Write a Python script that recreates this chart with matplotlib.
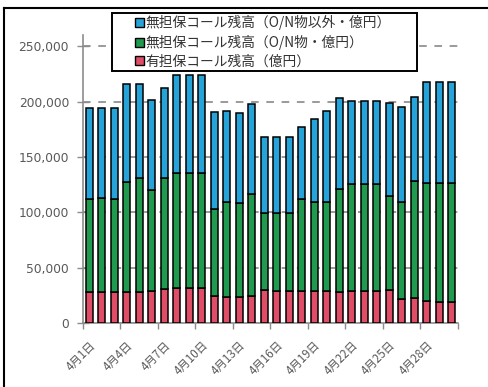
import matplotlib
matplotlib.use("Agg")
import matplotlib.pyplot as plt
from matplotlib.patches import Patch, Rectangle
from matplotlib.lines import Line2D
from matplotlib.ticker import FuncFormatter
import numpy as np

plt.rcParams['font.family'] = ['Noto Sans CJK JP', 'DejaVu Sans']

# Daily call market balances for April (unit: 100 million yen)
days = [f"4月{d}日" for d in range(1, 31)]
secured = [28000, 28000, 28000, 28000, 28000, 29500, 30700, 31600, 31600, 31600,
           25000, 24100, 24100, 24700, 30100, 29500, 29500, 29200, 29500, 29500,
           28600, 29200, 29500, 29500, 30100, 21700, 22600, 20500, 19500, 19500]
uncollat_on_total = [112000, 113400, 112000, 127200, 130800, 120300, 130800, 135900, 135900, 135900,
                     103200, 109200, 108900, 116400, 99800, 99800, 99800, 111900, 109800, 109200,
                     121200, 125400, 125400, 125400, 114900, 109200, 128700, 126900, 126900, 126900]
grand_total = [194600, 194600, 194600, 216000, 216000, 201500, 212600, 223500, 223500, 223500,
               190400, 191600, 189500, 197900, 168000, 168000, 168000, 176800, 184100, 191600,
               203000, 200900, 200900, 200900, 199100, 195500, 204500, 217400, 217400, 217400]

secured = np.array(secured)
uncollat_on = np.array(uncollat_on_total) - secured
uncollat_term = np.array(grand_total) - np.array(uncollat_on_total)

labels = ["無担保コール残高（O/N物以外・億円）",
          "無担保コール残高（O/N物・億円）",
          "有担保コール残高（億円）"]
c_blue, c_green, c_red = "#26a3d9", "#1f9a4e", "#df4d66"

W, H = 488, 387
fig = plt.figure(figsize=(W / 100, H / 100), dpi=100)
ax = fig.add_axes([0.170, 0.1646, 0.7685, 0.745])

x = np.arange(len(days))
w = 0.58
ekw = dict(edgecolor="black", linewidth=1.1, zorder=3)
ax.bar(x, secured, w, color=c_red, **ekw)
ax.bar(x, uncollat_on, w, bottom=secured, color=c_green, **ekw)
ax.bar(x, uncollat_term, w, bottom=secured + uncollat_on, color=c_blue, **ekw)

ax.set_xlim(-0.5, len(days) - 0.5)
ax.set_ylim(0, 260000)
ax.set_yticks(np.arange(0, 250001, 50000))
ax.yaxis.set_major_formatter(FuncFormatter(lambda v, p: f"{int(v):,}"))
ax.yaxis.grid(True, color="#7f7f7f", linewidth=1.1, linestyle=(0, (5, 5)), zorder=1)
ax.set_axisbelow(True)

# tick marks at category boundaries, labels centred on every third day
ax.set_xticks(np.arange(-0.5, len(days), 3))
ax.set_xticklabels([])
ax.set_xticks(np.arange(0, len(days), 3), minor=True)
ax.set_xticklabels(days[::3], minor=True, rotation=45, ha="right",
                   rotation_mode="anchor", fontsize=8.3, color="#595959")
ax.tick_params(axis="x", which="minor", length=0, pad=11)
ax.tick_params(axis="x", which="major", length=4, color="#8c8c8c", width=1)
ax.tick_params(axis="y", direction="inout", length=8, color="#8c8c8c", width=1,
               labelsize=8.8, labelcolor="#595959", pad=6)
for lbl in ax.get_yticklabels():
    lbl.set_family("DejaVu Sans")

for s in ("top", "right"):
    ax.spines[s].set_visible(False)
for s in ("left", "bottom"):
    ax.spines[s].set_color("#8c8c8c")
    ax.spines[s].set_linewidth(1.2)

# legend box, then the entries inside it
fig.add_artist(Rectangle((112 / W, 1 - 71 / H), (417 - 112) / W, (71 - 13) / H,
                         transform=fig.transFigure, facecolor="white",
                         edgecolor="black", linewidth=1.4, zorder=9))
handles = [Patch(facecolor=c, edgecolor="black", linewidth=1.0) for c in (c_blue, c_green, c_red)]
leg = fig.legend(handles, labels, loc="upper left", bbox_to_anchor=(134 / W, 1 - 14 / H),
                 borderaxespad=0, fontsize=9.9, frameon=False,
                 handlelength=0.6, handleheight=0.6, handletextpad=0.12,
                 labelspacing=0.33, borderpad=0.1, labelcolor="#333333")
leg.set_zorder(10)

# outer frame lines along the left and top edges
fig.add_artist(Line2D([4 / W, 4 / W], [0, 1 - 8 / H], transform=fig.transFigure,
                      color="black", linewidth=1.5))
fig.add_artist(Line2D([4 / W, 1], [1 - 8 / H, 1 - 8 / H], transform=fig.transFigure,
                      color="black", linewidth=1.5))

fig.savefig("out.png", dpi=100)
